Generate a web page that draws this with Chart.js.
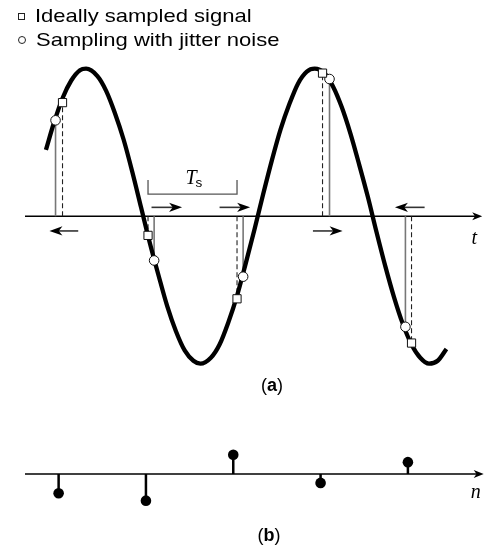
<!DOCTYPE html>
<html>
<head>
<meta charset="utf-8">
<script src="https://cdn.jsdelivr.net/npm/chart.js@4.4.1/dist/chart.umd.min.js"></script>
<style>
  body { margin: 0; background: #fff; }
  #page { position: relative; width: 489px; height: 545px; overflow: hidden; font-family: "Liberation Sans", Arial, sans-serif; color: #000; }
  canvas { position: absolute; left: 0; }
  #chartA { top: 0; }
  #chartB { top: 400px; }
  .leg { position: absolute; left: 35px; font-size: 18.5px; line-height: 18.5px; white-space: nowrap; transform: scaleX(1.19); transform-origin: left center; }
  .mark { position: absolute; box-sizing: border-box; border: 1px solid #222; background: #fff; }
  .cap { position: absolute; font-size: 18px; line-height: 18px; transform: translateX(-50%); white-space: nowrap; }
</style>
</head>
<body>
<div id="page">
  <canvas id="chartA" width="489" height="400"></canvas>
  <canvas id="chartB" width="489" height="145"></canvas>
  <span class="mark" style="left:18px;top:13px;width:7px;height:7px;"></span>
  <div class="leg" id="leg0" style="top:7px;"></div>
  <span class="mark" style="left:18px;top:36px;width:8px;height:8px;border-radius:50%;"></span>
  <div class="leg" id="leg1" style="top:31px;left:36px;"></div>
  <div class="cap" style="left:272px;top:376px;">(<b>a</b>)</div>
  <div class="cap" style="left:269px;top:526px;">(<b>b</b>)</div>
</div>
<script>
// time axis in units of Ts, amplitude scaled to the signal peak
const seriesLabels = ["Ideally sampled signal", "Sampling with jitter noise"];

const curveT = [0.81, 0.9, 1.0, 1.1, 1.2, 1.27, 1.4, 1.5, 1.6, 1.7, 1.8, 1.9, 2.0, 2.1, 2.2, 2.3, 2.4, 2.5, 2.58,
                2.7, 2.8, 2.9, 3.0, 3.1, 3.2, 3.3, 3.4, 3.5, 3.6, 3.7, 3.8, 3.89, 4.0, 4.1, 4.2, 4.3, 4.4, 4.5,
                4.6, 4.7, 4.8, 4.9, 5.0, 5.1, 5.2, 5.3, 5.4];
const curveV = [0.45, 0.63, 0.80, 0.92, 0.99, 1.00, 0.95, 0.85, 0.70, 0.52, 0.30, 0.06, -0.18, -0.40, -0.61, -0.78, -0.91, -0.98, -1.00,
                -0.96, -0.87, -0.72, -0.54, -0.32, -0.09, 0.15, 0.38, 0.59, 0.76, 0.90, 0.98, 1.00, 0.97, 0.88, 0.74, 0.56, 0.35, 0.13,
                -0.11, -0.34, -0.55, -0.73, -0.87, -0.96, -1.00, -0.98, -0.90];

const idealT  = [1.00, 1.98, 3.00, 3.98, 5.00];
const idealV  = [0.77, -0.13, -0.56, 0.97, -0.86];
const jitterT = [0.92, 2.05, 3.07, 4.06, 4.93];
const jitterV = [0.65, -0.30, -0.41, 0.93, -0.75];

// jitter direction arrows (tail -> head) and their height
const arrowFrom  = [1.18, 2.02, 2.80, 3.87, 5.15];
const arrowTo    = [0.85, 2.37, 3.15, 4.21, 4.81];
const arrowLevel = [-0.10, 0.06, 0.06, -0.10, 0.06];

// panel (b): sampling error per index n
const errN = [1, 2, 3, 4, 5];
const errV = [-0.13, -0.18, 0.13, -0.06, 0.08];

document.getElementById("leg0").textContent = seriesLabels[0];
document.getElementById("leg1").textContent = seriesLabels[1];

function stems(xs, ys) {
  const out = [];
  xs.forEach((x, i) => { out.push({ x, y: 0 }, { x, y: ys[i] }, { x, y: null }); });
  return out;
}

function points(xs, ys) { return xs.map((x, i) => ({ x, y: ys[i] })); }

function arrowHead(ctx, x, y, dir, len, half) {
  ctx.beginPath();
  ctx.moveTo(x, y);
  ctx.lineTo(x - dir * len, y - half);
  ctx.lineTo(x - dir * len * 0.72, y);
  ctx.lineTo(x - dir * len, y + half);
  ctx.closePath();
  ctx.fill();
}

function drawAxis(chart, label, labelDy) {
  const { ctx, chartArea } = chart;
  const y0 = chart.scales.y.getPixelForValue(0);
  ctx.save();
  ctx.strokeStyle = "#000";
  ctx.fillStyle = "#000";
  ctx.lineWidth = 1.4;
  ctx.beginPath();
  ctx.moveTo(chartArea.left, y0);
  ctx.lineTo(chartArea.right - 4, y0);
  ctx.stroke();
  arrowHead(ctx, chartArea.right, y0, 1, 10, 4);
  ctx.font = "italic 20px 'Liberation Serif', serif";
  ctx.textAlign = "center";
  ctx.textBaseline = "alphabetic";
  ctx.fillText(label, chartArea.right - 8, y0 + labelDy);
  ctx.restore();
}

const panelA = {
  id: "panelA",
  beforeDatasetsDraw(chart) {
    const { ctx } = chart;
    const xs = chart.scales.x, ys = chart.scales.y;
    drawAxis(chart, "t", 28);
    ctx.save();
    // jitter arrows
    ctx.strokeStyle = "#333";
    ctx.fillStyle = "#000";
    ctx.lineWidth = 1.6;
    arrowFrom.forEach((from, i) => {
      const x1 = xs.getPixelForValue(from), x2 = xs.getPixelForValue(arrowTo[i]);
      const y = ys.getPixelForValue(arrowLevel[i]);
      const dir = x2 > x1 ? 1 : -1;
      ctx.beginPath();
      ctx.moveTo(x1, y);
      ctx.lineTo(x2 - dir * 7, y);
      ctx.stroke();
      arrowHead(ctx, x2, y, dir, 13, 4.6);
    });
    // Ts bracket between two ideal samples
    const bl = xs.getPixelForValue(idealT[1]), br = xs.getPixelForValue(idealT[2]);
    const by = ys.getPixelForValue(0.15), bt = ys.getPixelForValue(0.245);
    ctx.strokeStyle = "#555";
    ctx.lineWidth = 1.3;
    ctx.beginPath();
    ctx.moveTo(bl, bt); ctx.lineTo(bl, by); ctx.lineTo(br, by); ctx.lineTo(br, bt);
    ctx.stroke();
    const mid = (bl + br) / 2;
    ctx.fillStyle = "#000";
    ctx.textBaseline = "alphabetic";
    ctx.font = "italic 20px 'Liberation Serif', serif";
    ctx.textAlign = "right";
    ctx.fillText("T", mid + 4, by - 10);
    ctx.font = "13.5px 'Liberation Sans', sans-serif";
    ctx.textAlign = "left";
    ctx.fillText("s", mid + 3, by - 7.5);
    ctx.restore();
  }
};

const panelB = {
  id: "panelB",
  beforeDatasetsDraw(chart) { drawAxis(chart, "n", 24); }
};

const common = {
  responsive: false,
  devicePixelRatio: 1,
  animation: false,
  events: [],
  plugins: { legend: { display: false }, tooltip: { enabled: false } }
};

new Chart(document.getElementById("chartA"), {
  type: "line",
  data: {
    datasets: [
      { data: points(idealT, idealV), showLine: false, pointStyle: "rect", pointRadius: 5.8,
        pointBackgroundColor: "#fff", pointBorderColor: "#111", pointBorderWidth: 1, order: 0, clip: false },
      { data: points(jitterT, jitterV), showLine: false, pointStyle: "circle", pointRadius: 4.8,
        pointBackgroundColor: "#fff", pointBorderColor: "#111", pointBorderWidth: 1, order: 1, clip: false },
      { data: points(curveT, curveV), borderColor: "#000", borderWidth: 4.3, pointRadius: 0,
        cubicInterpolationMode: "monotone", borderCapStyle: "butt", order: 2, clip: false },
      { data: stems(idealT, idealV), borderColor: "#222", borderWidth: 1.1, borderDash: [5, 3],
        pointRadius: 0, spanGaps: false, order: 3, clip: false },
      { data: stems(jitterT, jitterV), borderColor: "#777", borderWidth: 1.6,
        pointRadius: 0, spanGaps: false, order: 4, clip: false }
    ]
  },
  options: {
    ...common,
    layout: { padding: { left: 25, right: 0, top: 39.2, bottom: 5.6 } },
    scales: {
      x: { type: "linear", min: 0.57, max: 5.81, display: false },
      y: { type: "linear", min: -1.2, max: 1.2, display: false }
    }
  },
  plugins: [panelA]
});

new Chart(document.getElementById("chartB"), {
  type: "line",
  data: {
    datasets: [
      { data: points(errN, errV), showLine: false, pointStyle: "circle", pointRadius: 5.3,
        pointBackgroundColor: "#000", pointBorderColor: "#000", pointBorderWidth: 0, order: 0, clip: false },
      { data: stems(errN, errV), borderColor: "#000", borderWidth: 2.5, pointRadius: 0,
        spanGaps: false, order: 1, clip: false }
    ]
  },
  options: {
    ...common,
    layout: { padding: { left: 25, right: 0, top: 29.6, bottom: 26.6 } },
    scales: {
      x: { type: "linear", min: 0.615, max: 5.868, display: false },
      y: { type: "linear", min: -0.3, max: 0.3, display: false }
    }
  },
  plugins: [panelB]
});
</script>
</body>
</html>
